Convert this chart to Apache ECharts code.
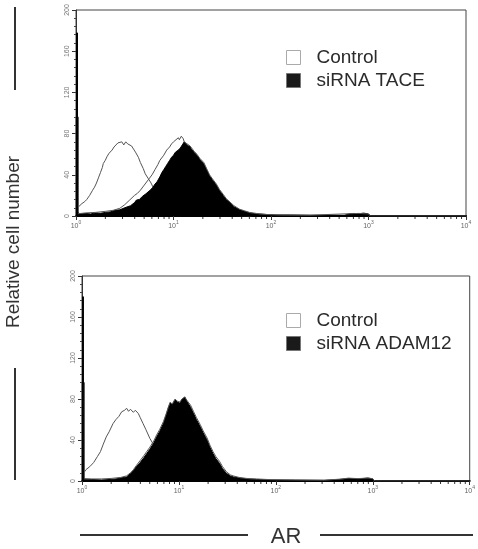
<!DOCTYPE html>
<html><head><meta charset="utf-8">
<script src="https://cdn.jsdelivr.net/npm/echarts@6/dist/echarts.min.js"></script>
<style>html,body{margin:0;padding:0;background:#fff}#c{width:478px;height:549px}</style>
</head><body><div id="c"></div>
<script>
// x values are log10(AR fluorescence intensity); y values are cell counts
const yTicks = [0, 40, 80, 120, 160, 200];
const xDecades = [0, 1, 2, 3, 4];
const minorTickValues = [2,3,4,5,6,7,8,9,20,30,40,50,60,70,80,90,200,300,400,500,600,700,800,900,2000,3000,4000,5000,6000,7000,8000,9000];

// first (pile-up) bin at 10^0
const topFirstBinBlack = [[0.01, 178]];
const topFirstBinOpen = [[0, 0.025, 96]];
const botFirstBinBlack = [[0.01, 180]];
const botFirstBinOpen = [[0, 0.025, 96]];

const topIsotype = [[0.027,9],[0.04,10],[0.06,12],[0.09,14],[0.11,16],[0.14,20],[0.17,25],[0.19,28],[0.21,32],[0.23,37],[0.25,42],[0.27,47],[0.28,51],[0.30,54],[0.32,58],[0.34,61],[0.35,62],[0.37,64],[0.39,67],[0.41,68],[0.43,71],[0.45,70],[0.47,72],[0.49,69],[0.51,72],[0.53,70],[0.55,71],[0.57,68],[0.59,65],[0.61,62],[0.64,57],[0.66,52],[0.69,46],[0.71,41],[0.74,36.5],[0.77,32],[0.79,28],[0.82,24],[0.85,20],[0.88,16],[0.92,13],[0.96,10],[1.0,8],[1.05,6],[1.1,5],[1.2,3],[1.3,2],[1.45,1],[1.6,0.5],[1.8,0]];
const topControl = [[0,2],[0.1,3],[0.2,3.5],[0.3,4.5],[0.38,5.5],[0.45,7.5],[0.5,11],[0.55,15.5],[0.6,20],[0.63,22],[0.66,25],[0.7,30],[0.74,35],[0.78,40],[0.81,45],[0.84,50],[0.86,54],[0.9,59],[0.93,64],[0.96,67],[0.98,70],[1.0,72],[1.02,73],[1.05,76],[1.06,74],[1.08,77.5],[1.1,75],[1.11,72],[1.14,70],[1.17,68],[1.21,63],[1.24,60],[1.27,56],[1.31,52],[1.34,46],[1.37,40],[1.40,36],[1.44,31],[1.47,26],[1.51,21],[1.54,17],[1.58,13.5],[1.62,10],[1.68,6.5],[1.73,5],[1.78,3.5],[1.85,2.5],[1.95,1.5],[2.1,1],[2.4,0.8],[2.8,2.2],[2.9,2.5],[3.0,2],[3.02,0],[4,0]];
const topTace = [[0.02,3],[0.05,2],[0.1,2.5],[0.15,2],[0.2,3],[0.25,2.6],[0.3,3.5],[0.35,4],[0.4,5.5],[0.45,6],[0.5,8],[0.52,9],[0.56,10],[0.6,13],[0.62,15.5],[0.65,16],[0.68,19],[0.71,21],[0.73,22],[0.76,25],[0.79,28],[0.81,31],[0.83,33],[0.86,38],[0.88,42],[0.9,45],[0.92,48],[0.94,51],[0.96,54],[0.98,57],[1.0,59],[1.02,62],[1.05,64],[1.07,66],[1.09,69],[1.11,72],[1.12,70.5],[1.14,69],[1.17,67],[1.19,64],[1.21,62],[1.24,59],[1.27,55],[1.29,53],[1.31,51],[1.34,45],[1.37,39],[1.40,35],[1.44,30],[1.47,25],[1.51,20],[1.54,16],[1.58,13],[1.62,9],[1.68,6],[1.73,4.5],[1.78,3],[1.85,2],[1.95,1.5],[2.05,1],[2.2,1],[2.4,0.7],[2.6,0.8],[2.75,0.6],[2.8,2],[2.85,2.5],[2.9,2.2],[2.95,2.8],[3.0,2],[3.02,0],[4,0]];

const botIsotype = [[0.027,9],[0.04,11],[0.08,14],[0.12,18],[0.16,24],[0.19,28.6],[0.22,36],[0.25,43],[0.28,48],[0.32,56],[0.35,60],[0.38,63],[0.41,67.6],[0.44,69],[0.46,71],[0.48,68],[0.5,70],[0.51,69],[0.53,67],[0.55,69],[0.58,66],[0.6,62],[0.63,56],[0.66,50],[0.7,41.6],[0.75,33.5],[0.79,27],[0.83,21],[0.88,15],[0.93,10],[1.0,7],[1.1,4],[1.2,2.5],[1.35,1.5],[1.5,0.5],[1.7,0]];
const botControl = [[0,2],[0.1,2],[0.2,2],[0.3,2.5],[0.4,3.5],[0.46,5],[0.5,8],[0.53,11],[0.56,15],[0.6,20],[0.64,25],[0.67,29],[0.7,33],[0.74,39],[0.77,45],[0.8,50],[0.84,58],[0.87,66],[0.89,72],[0.91,77],[0.93,75],[0.96,80],[0.98,78],[1.01,77],[1.03,80],[1.06,82],[1.08,79],[1.10,78],[1.12,74],[1.15,68],[1.18,62],[1.22,55],[1.25,49],[1.29,42],[1.32,35],[1.35,29],[1.38,24],[1.42,19],[1.45,14],[1.49,9],[1.53,6],[1.56,5],[1.62,3.5],[1.7,2.5],[1.8,2],[1.95,1.3],[2.2,1],[2.5,0.8],[2.66,1.8],[2.75,2.8],[2.85,2.3],[2.95,3],[3.0,2.2],[3.02,0],[4,0]];
const botAdam = [[0.02,2],[0.1,1.5],[0.2,1],[0.29,1.5],[0.35,2],[0.4,3],[0.46,4],[0.5,7],[0.53,10],[0.56,14],[0.6,18],[0.64,23],[0.67,27],[0.7,31],[0.74,37],[0.77,43],[0.8,48],[0.84,56],[0.87,65],[0.89,71],[0.91,76],[0.93,74],[0.96,79],[0.98,77],[1.01,76],[1.03,79],[1.06,82],[1.08,78],[1.10,77],[1.12,72],[1.15,66],[1.18,60],[1.22,53],[1.25,47],[1.29,40],[1.32,33],[1.35,27],[1.38,22],[1.42,17],[1.45,12],[1.49,7.5],[1.53,5],[1.56,4],[1.62,3],[1.7,2],[1.8,1.5],[1.95,1],[2.2,0.8],[2.5,0.6],[2.66,1.5],[2.75,2.5],[2.85,2],[2.95,2.8],[3.0,2],[3.02,0],[4,0]];

const FONT = '"Liberation Sans", Arial, sans-serif';
const minorExps = minorTickValues.map(v => [Math.log10(v), 0]);

function xAxisCfg(gi) {
  return {
    gridIndex: gi, type: 'value', min: 0, max: 4, interval: 1,
    axisLine: { show: true, lineStyle: { color: '#000', width: 2 } },
    axisTick: { show: true, length: 4, lineStyle: { color: '#333' } },
    splitLine: { show: false },
    axisLabel: {
      margin: 4, color: '#666',
      formatter: v => '{b|10}{s|' + v + '}',
      rich: {
        b: { fontSize: 7, fontFamily: FONT, color: '#666', lineHeight: 10, verticalAlign: 'bottom' },
        s: { fontSize: 5, fontFamily: FONT, color: '#666', lineHeight: 10, verticalAlign: 'top' }
      }
    }
  };
}
function yAxisCfg(gi) {
  return {
    gridIndex: gi, type: 'value', min: 0, max: 200, interval: 40,
    axisLine: { show: true, lineStyle: { color: '#333', width: 1 } },
    axisTick: { show: true, length: 4, lineStyle: { color: '#333' } },
    minorTick: { show: true, splitNumber: 5, length: 2, lineStyle: { color: '#444' } },
    splitLine: { show: false },
    axisLabel: { rotate: 90, fontSize: 7, fontFamily: FONT, color: '#777', margin: 5 }
  };
}
function outline(name, data, gi, z) {
  return { name, type: 'line', xAxisIndex: gi, yAxisIndex: gi, data, showSymbol: false, symbol: 'none',
    smooth: false, z, lineStyle: { color: '#555', width: 1 }, itemStyle: { color: '#fff' }, silent: true };
}
function filled(name, data, gi) {
  return { name, type: 'line', xAxisIndex: gi, yAxisIndex: gi, data, showSymbol: false, symbol: 'none',
    smooth: false, z: 3, lineStyle: { color: '#000', width: 1 }, areaStyle: { color: '#000', opacity: 1 },
    itemStyle: { color: '#000' }, silent: true };
}
// black pile-up bin: a 2px-wide bar
function blackBin(data, gi) {
  return { type: 'bar', xAxisIndex: gi, yAxisIndex: gi, data, barWidth: 2, silent: true, z: 6,
    itemStyle: { color: '#000' } };
}
// open pile-up bin: outline only
function openBin(data, gi) {
  return { type: 'custom', xAxisIndex: gi, yAxisIndex: gi, data, silent: true, z: 2,
    encode: { x: [0, 1], y: 2 },
    renderItem: (params, api) => {
      const a = api.coord([api.value(0), api.value(2)]);
      const b = api.coord([api.value(1), 0]);
      return { type: 'polyline', shape: { points: [[a[0], b[1]], [a[0], a[1]], [b[0], a[1]], [b[0], b[1]]] },
        style: { fill: null, stroke: '#555', lineWidth: 1 } };
    } };
}
function minorSeries(gi) {
  return { type: 'custom', xAxisIndex: gi, yAxisIndex: gi, data: minorExps, silent: true, clip: false, z: 5,
    renderItem: (params, api) => {
      const p = api.coord([api.value(0), 0]);
      return { type: 'line', shape: { x1: p[0], y1: p[1] + 1, x2: p[0], y2: p[1] + 3 }, style: { stroke: '#333', lineWidth: 1 } };
    } };
}
function legendCfg(top, second) {
  return {
    orient: 'vertical', left: 286, top, itemWidth: 14, itemHeight: 14, itemGap: 4, padding: 0,
    selectedMode: false,
    textStyle: { fontSize: 19, fontFamily: FONT, color: '#2b2b2b', padding: [0, 0, 0, 11] },
    data: [
      { name: 'Control', icon: 'rect', itemStyle: { color: '#fff', borderColor: '#aaa', borderWidth: 1 } },
      { name: second, icon: 'rect', itemStyle: { color: '#1a1a1a', borderColor: '#777', borderWidth: 1 } }
    ]
  };
}

const chart = echarts.init(document.getElementById('c'), null, { renderer: 'canvas' });
chart.setOption({
  backgroundColor: '#fff',
  animation: false,
  grid: [
    { left: 76, right: 12, top: 10, bottom: 333, show: true, borderColor: '#444', borderWidth: 1 },
    { left: 82, right: 8, top: 276, bottom: 68, show: true, borderColor: '#444', borderWidth: 1 }
  ],
  xAxis: [xAxisCfg(0), xAxisCfg(1)],
  yAxis: [yAxisCfg(0), yAxisCfg(1)],
  legend: [legendCfg(48, 'siRNA TACE'), legendCfg(311, 'siRNA ADAM12')],
  series: [
    outline('Control', topIsotype, 0, 2),
    filled('siRNA TACE', topTace, 0),
    outline('Control', topControl, 0, 4),
    openBin(topFirstBinOpen, 0),
    blackBin(topFirstBinBlack, 0),
    minorSeries(0),
    outline('Control', botIsotype, 1, 2),
    filled('siRNA ADAM12', botAdam, 1),
    outline('Control', botControl, 1, 4),
    openBin(botFirstBinOpen, 1),
    blackBin(botFirstBinBlack, 1),
    minorSeries(1)
  ],
  graphic: [
    { type: 'text', x: 14, y: 242, rotation: Math.PI / 2, style: { text: 'Relative cell number', fontSize: 19, fontFamily: FONT, fill: '#333', align: 'center', verticalAlign: 'middle' } },
    { type: 'line', shape: { x1: 15, y1: 7, x2: 15, y2: 90 }, style: { stroke: '#333', lineWidth: 2 } },
    { type: 'line', shape: { x1: 15, y1: 368, x2: 15, y2: 480 }, style: { stroke: '#333', lineWidth: 2 } },
    { type: 'text', x: 286, y: 537, style: { text: 'AR', fontSize: 22, fontFamily: FONT, fill: '#333', align: 'center', verticalAlign: 'middle' } },
    { type: 'line', shape: { x1: 80, y1: 535, x2: 248, y2: 535 }, style: { stroke: '#333', lineWidth: 2 } },
    { type: 'line', shape: { x1: 320, y1: 535, x2: 473, y2: 535 }, style: { stroke: '#333', lineWidth: 2 } }
  ]
});
</script></body></html>
